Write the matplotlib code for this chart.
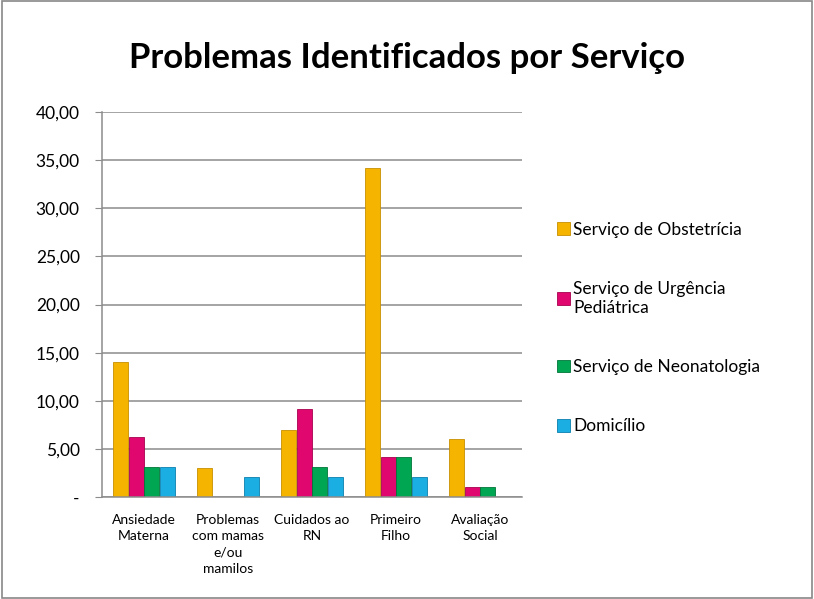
import numpy as np
import matplotlib.pyplot as plt
from matplotlib.patches import Rectangle
from matplotlib.ticker import FuncFormatter

plt.rcParams['font.family'] = ['Lato', 'DejaVu Sans']

categorias = ['Ansiedade\nMaterna', 'Problemas\ncom mamas\ne/ou\nmamilos',
              'Cuidados ao\nRN', 'Primeiro\nFilho', 'Avaliação\nSocial']
series = ['Serviço de Obstetrícia', 'Serviço de Urgência\nPediátrica',
          'Serviço de Neonatologia', 'Domicílio']
obstetricia = [14.0, 3.0, 7.0, 34.2, 6.0]
urgencia = [6.2, 0.0, 9.1, 4.2, 1.0]
neonatologia = [3.1, 0.0, 3.1, 4.2, 1.0]
domicilio = [3.1, 2.1, 2.1, 2.1, 0.0]
cores = ['#F5B400', '#E0086E', '#00A651', '#1BAEE3']
bordas = ['#C98F00', '#A8004F', '#00753A', '#0A7FAE']

fig = plt.figure(figsize=(8.14, 5.99), dpi=100)
fig.patches.append(Rectangle((0.002, 0.002), 0.996, 0.996, transform=fig.transFigure,
                             fill=False, edgecolor='#888888', linewidth=1.2))
ax = fig.add_axes([102/814, 1 - 497/599, 420/814, 385/599])

x = np.arange(len(categorias))
w = 0.185
dados = [obstetricia, urgencia, neonatologia, domicilio]
for i, vals in enumerate(dados):
    vals = np.array(vals)
    pos = x + (i - 1.5) * w
    m = vals > 0
    ax.bar(pos[m], vals[m], width=w * 0.98, color=cores[i], edgecolor=bordas[i],
           linewidth=0.6, label=series[i])

ax.set_xlim(-0.5, len(categorias) - 0.5)
ax.set_ylim(0, 40)
ax.set_yticks(np.arange(0, 41, 5))
ax.yaxis.set_major_formatter(FuncFormatter(
    lambda v, p: '-' if v == 0 else ('%.2f' % v).replace('.', ',')))
ax.grid(axis='y', color='#8c8c8c', linewidth=1.1)
ax.set_axisbelow(True)
for s in ['top', 'right']:
    ax.spines[s].set_visible(False)
for s in ['left', 'bottom']:
    ax.spines[s].set_color('#8c8c8c')
    ax.spines[s].set_linewidth(1.1)
ax.tick_params(axis='y', length=5, color='#8c8c8c', labelsize=12.5, pad=11)
ax.tick_params(axis='x', length=0, labelsize=10, pad=12)
ax.set_xticks(x)
ax.set_xticklabels(categorias, linespacing=1.45)

fig.text(0.5, 1 - 58/599, 'Problemas Identificados por Serviço', ha='center', va='center',
         fontsize=25, fontweight='bold')

leg = fig.legend(loc='upper left', bbox_to_anchor=(541/814, 1 - 206/599), frameon=False,
                 fontsize=12.5, handlelength=0.75, handleheight=0.75, handletextpad=0.2,
                 labelspacing=2.5)

fig.savefig('out.png', dpi=100)
